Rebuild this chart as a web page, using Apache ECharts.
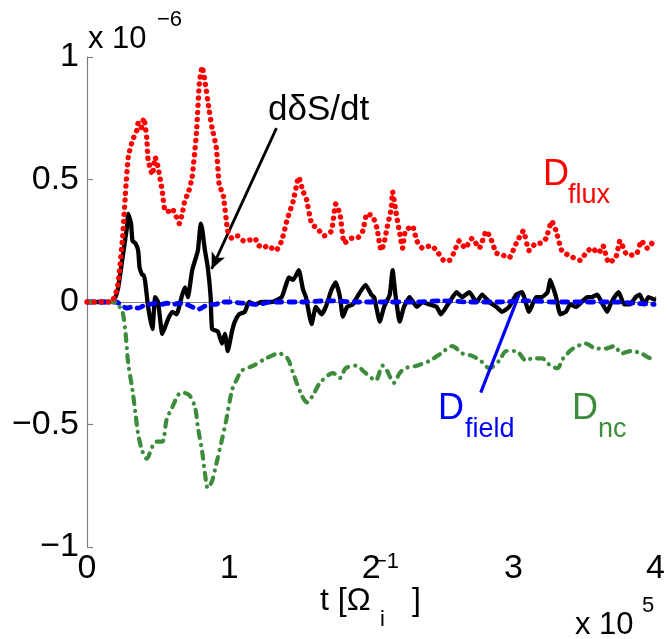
<!DOCTYPE html>
<html>
<head>
<meta charset="utf-8">
<script src="https://cdn.jsdelivr.net/npm/echarts@6/dist/echarts.min.js"></script>
<style>html,body{margin:0;padding:0;background:#fff}#c{width:668px;height:639px}</style>
</head>
<body>
<div id="c"></div>
<script>
// x in units of 1e5, y in units of 1e-6
var xTicks = [0, 1, 2, 3, 4];
var yTicks = [-1, -0.5, 0, 0.5, 1];

var fluxX = [0,0.10,0.17,0.20,0.22,0.25,0.27,0.29,0.32,0.35,0.36,0.38,0.40,0.42,0.43,0.46,0.48,0.50,0.53,0.55,0.58,0.60,0.62,0.65,0.67,0.69,0.71,0.74,0.77,0.79,0.81,0.83,0.86,0.88,0.91,0.93,0.96,0.99,1.02,1.06,1.10,1.13,1.18,1.21,1.24,1.27,1.30,1.33,1.37,1.41,1.45,1.49,1.52,1.54,1.58,1.62,1.67,1.72,1.75,1.78,1.81,1.86,1.90,1.94,1.97,2.01,2.04,2.07,2.09,2.11,2.14,2.15,2.17,2.20,2.22,2.24,2.29,2.32,2.36,2.42,2.46,2.51,2.55,2.58,2.62,2.66,2.71,2.76,2.81,2.84,2.88,2.93,2.97,3.02,3.07,3.11,3.16,3.20,3.23,3.27,3.30,3.34,3.39,3.47,3.51,3.55,3.60,3.63,3.67,3.72,3.75,3.79,3.82,3.87,3.90,3.94,3.97,3.99];
var fluxY = [0,0,0,0.03,0.08,0.26,0.44,0.59,0.66,0.70,0.73,0.71,0.75,0.67,0.58,0.52,0.59,0.55,0.45,0.37,0.37,0.38,0.36,0.32,0.36,0.42,0.44,0.51,0.69,0.89,0.96,0.90,0.78,0.71,0.63,0.48,0.43,0.29,0.26,0.27,0.25,0.25,0.26,0.23,0.22,0.23,0.22,0.21,0.25,0.34,0.41,0.51,0.45,0.43,0.32,0.30,0.27,0.29,0.40,0.36,0.24,0.26,0.26,0.29,0.36,0.35,0.30,0.21,0.24,0.30,0.38,0.45,0.38,0.28,0.22,0.29,0.31,0.25,0.22,0.23,0.21,0.17,0.17,0.20,0.25,0.22,0.26,0.22,0.29,0.26,0.20,0.19,0.18,0.24,0.29,0.21,0.24,0.24,0.26,0.33,0.29,0.21,0.19,0.17,0.20,0.22,0.20,0.23,0.16,0.18,0.25,0.20,0.19,0.20,0.25,0.22,0.24,0.23];

var entX = [0,0.17,0.20,0.22,0.25,0.28,0.29,0.31,0.32,0.34,0.36,0.37,0.39,0.40,0.41,0.43,0.46,0.48,0.50,0.53,0.57,0.60,0.63,0.67,0.69,0.71,0.74,0.78,0.80,0.81,0.83,0.85,0.87,0.88,0.92,0.95,0.97,0.99,1.02,1.04,1.07,1.11,1.14,1.18,1.23,1.30,1.37,1.40,1.42,1.45,1.49,1.52,1.54,1.58,1.61,1.65,1.68,1.72,1.75,1.78,1.80,1.83,1.87,1.90,1.96,2.00,2.02,2.06,2.09,2.13,2.15,2.17,2.20,2.23,2.27,2.32,2.36,2.41,2.46,2.49,2.55,2.60,2.64,2.69,2.74,2.78,2.83,2.88,2.92,2.97,3.02,3.06,3.11,3.16,3.20,3.24,3.26,3.30,3.33,3.37,3.40,3.44,3.48,3.52,3.55,3.59,3.62,3.66,3.69,3.74,3.78,3.82,3.86,3.89,3.92,3.95,3.99];
var entY = [0,0,0.02,0.06,0.18,0.30,0.36,0.32,0.25,0.24,0.21,0.14,0.11,0.11,0.08,-0.02,-0.11,0.02,0.0,-0.13,-0.07,-0.04,-0.05,0.03,0.06,0.02,0.13,0.21,0.32,0.30,0.21,0.14,0.02,-0.11,-0.12,-0.17,-0.13,-0.20,-0.12,-0.08,-0.05,-0.04,0.0,-0.01,0.0,0.0,0.02,0.07,0.10,0.09,0.13,0.05,0.02,-0.09,-0.02,-0.05,-0.02,0.05,0.08,0.02,-0.06,-0.02,-0.01,0.02,0.07,0.03,0.02,-0.08,-0.02,0.03,0.13,0.03,-0.08,-0.02,0.02,-0.02,0.0,-0.01,-0.02,-0.05,0.0,0.04,0.02,0.04,0.0,0.03,0.0,-0.02,-0.04,-0.02,0.03,0.04,-0.04,0.02,0.02,0.04,0.09,0.02,-0.05,-0.04,-0.01,-0.02,0,0.02,0.02,0.03,0,-0.04,0,0.04,-0.01,-0.01,0.02,0.03,-0.01,0.02,0.01];

var fieldX = [0,0.20,0.24,0.28,0.32,0.36,0.40,0.44,0.48,0.52,0.56,0.60,0.65,0.70,0.74,0.78,0.82,0.86,0.90,0.95,1.00,1.10,1.20,1.30,1.50,1.70,1.90,2.10,2.30,2.50,2.70,2.90,3.10,3.30,3.50,3.70,3.85,3.99];
var fieldY = [0,0,-0.01,-0.025,-0.02,-0.025,-0.015,-0.01,-0.005,-0.01,-0.005,-0.01,-0.005,-0.01,-0.02,-0.03,-0.02,-0.01,-0.01,0,0,-0.005,-0.01,0,0,0.005,0,0,0,0.005,0,0,0.005,0,0,0,-0.005,-0.01];

var ncX = [0,0.20,0.23,0.25,0.27,0.29,0.32,0.34,0.36,0.39,0.42,0.46,0.49,0.53,0.56,0.60,0.64,0.67,0.72,0.76,0.78,0.81,0.83,0.85,0.88,0.91,0.95,0.98,1.02,1.05,1.09,1.17,1.26,1.35,1.41,1.45,1.51,1.55,1.59,1.64,1.73,1.78,1.82,1.89,1.96,2.03,2.08,2.11,2.16,2.20,2.24,2.32,2.41,2.49,2.57,2.64,2.71,2.77,2.83,2.90,2.95,3.02,3.09,3.13,3.20,3.26,3.31,3.35,3.42,3.51,3.58,3.65,3.71,3.76,3.83,3.90,3.97,3.99];
var ncY = [0,0,-0.02,-0.04,-0.12,-0.25,-0.36,-0.45,-0.54,-0.61,-0.64,-0.59,-0.57,-0.57,-0.48,-0.43,-0.38,-0.37,-0.38,-0.43,-0.51,-0.61,-0.70,-0.76,-0.73,-0.66,-0.56,-0.48,-0.36,-0.32,-0.28,-0.26,-0.23,-0.21,-0.23,-0.29,-0.38,-0.41,-0.38,-0.33,-0.29,-0.31,-0.27,-0.26,-0.29,-0.32,-0.26,-0.28,-0.33,-0.29,-0.27,-0.26,-0.24,-0.21,-0.18,-0.21,-0.22,-0.24,-0.27,-0.24,-0.20,-0.20,-0.24,-0.23,-0.23,-0.26,-0.27,-0.23,-0.19,-0.17,-0.19,-0.19,-0.18,-0.21,-0.20,-0.21,-0.23,-0.22];

// annotation pointer lines (data coords)
var entArrowFrom = [1.333, 0.71];
var entArrowTo = [0.877, 0.135];
var fieldLineFrom = [2.77, -0.37];
var fieldLineTo = [3.04, 0.03];

function pairs(xs, ys) { return xs.map(function (x, i) { return [x, ys[i]]; }); }

var FONT = 'Liberation Sans, Arial, Helvetica, sans-serif';
var chart = echarts.init(document.getElementById('c'), null, {renderer: 'canvas'});

function fmtMinus(v) { return (v < 0 ? '\u2212' + Math.abs(v) : String(v)); }

function txt(text, x, y, size, color) {
  return { type: 'text', x: x, y: y, z: 100,
    style: { text: text, fontSize: size, fontFamily: FONT, fill: color || '#000', verticalAlign: 'middle', align: 'left' } };
}

var option = {
  animation: false,
  backgroundColor: '#fff',
  grid: { left: 87, right: 11, top: 57, bottom: 92 },
  xAxis: {
    type: 'value', min: xTicks[0], max: xTicks[xTicks.length - 1], interval: 1,
    axisLine: { show: true, lineStyle: { color: '#808080', width: 1.2 } },
    axisTick: { show: true, inside: true, length: 6, lineStyle: { color: '#808080', width: 1.2 } },
    axisLabel: { margin: 5, fontSize: 34, fontFamily: FONT, color: '#000',
      formatter: function (v) { return xTicks.indexOf(v) >= 0 ? String(v) : ''; } },
    splitLine: { show: false }
  },
  yAxis: {
    type: 'value', min: yTicks[0], max: yTicks[yTicks.length - 1], interval: 0.5,
    axisLine: { show: true, lineStyle: { color: '#808080', width: 1.2 } },
    axisTick: { show: true, inside: true, length: 6, lineStyle: { color: '#808080', width: 1.2 } },
    axisLabel: { margin: 8, fontSize: 34, fontFamily: FONT, color: '#000', formatter: fmtMinus },
    splitLine: { show: false }
  },
  series: [
    { name: 'dδS/dt', type: 'line', data: pairs(entX, entY), symbol: 'none', smooth: 0.15,
      lineStyle: { color: '#000', width: 4.3, cap: 'round', join: 'round' }, z: 2,
      markLine: { silent: true, symbol: ['none', 'arrow'], symbolSize: [11, 16], label: { show: false },
        lineStyle: { color: '#000', width: 2.8, type: 'solid' },
        data: [[{ coord: entArrowFrom }, { coord: entArrowTo }]] } },
    { name: 'D_field', type: 'line', data: pairs(fieldX, fieldY), symbol: 'none', smooth: 0.3,
      lineStyle: { color: '#0000ff', width: 4.8, type: [6, 7], cap: 'round' }, z: 3,
      markLine: { silent: true, symbol: ['none', 'none'], label: { show: false },
        lineStyle: { color: '#0000ff', width: 3.2, type: 'solid' },
        data: [[{ coord: fieldLineFrom }, { coord: fieldLineTo }]] } },
    { name: 'D_nc', type: 'line', data: pairs(ncX, ncY), symbol: 'none', smooth: 0.3,
      lineStyle: { color: '#3c8c3c', width: 4.2, type: [7, 7, 0.1, 7], cap: 'round' }, z: 4 },
    { name: 'D_flux', type: 'line', data: pairs(fluxX, fluxY), symbol: 'none', smooth: 0.15,
      lineStyle: { color: '#ff0000', width: 5.4, type: [0.1, 7], cap: 'round' }, z: 5 }
  ],
  graphic: [
    txt('x 10', 88, 39, 31),
    txt('\u22126', 157, 20, 22),
    txt('x 10', 575, 625, 31),
    txt('5', 642, 606, 22),
    txt('t [\u03A9', 320, 601, 32),
    txt('\u22121', 374, 562, 22),
    txt('i', 380, 620, 22),
    txt(']', 412, 601, 32),
    txt('d\u03B4S/dt', 268, 110, 35),
    txt('D', 543, 175, 36, '#ff0000'),
    txt('flux', 568, 196, 27, '#ff0000'),
    txt('D', 438, 409, 36, '#0000ff'),
    txt('field', 465, 430, 27, '#0000ff'),
    txt('D', 572, 409, 36, '#3c8c3c'),
    txt('nc', 598, 430, 27, '#3c8c3c')
  ]
};
chart.setOption(option);
</script>
</body>
</html>
